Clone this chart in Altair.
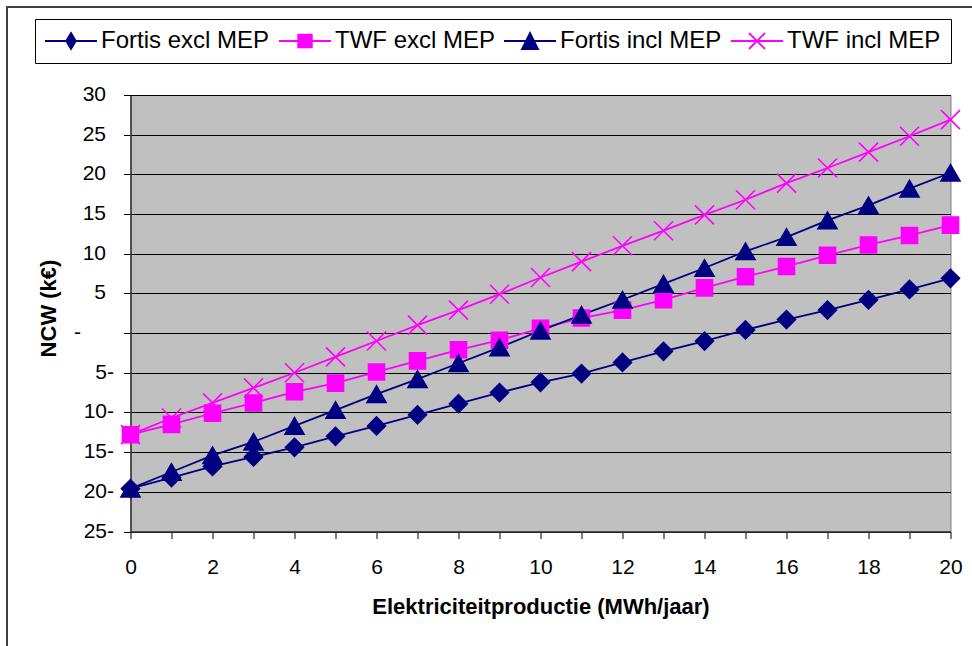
import altair as alt
import pandas as pd

# ---------------- data ----------------
x_vals = list(range(21))
series_names = ["Fortis excl MEP", "TWF excl MEP", "Fortis incl MEP", "TWF incl MEP"]
fortis_excl = [-19.6, -18.2, -16.8, -15.6, -14.4, -13.0, -11.7, -10.3, -8.9, -7.5, -6.2,
               -5.1, -3.7, -2.3, -1.0, 0.4, 1.7, 2.9, 4.2, 5.5, 6.9]
twf_excl = [-12.8, -11.5, -10.1, -8.8, -7.4, -6.3, -4.9, -3.5, -2.1, -0.9, 0.6,
            1.9, 2.9, 4.2, 5.7, 7.1, 8.4, 9.8, 11.1, 12.3, 13.6]
fortis_incl = [-19.6, -17.5, -15.4, -13.7, -11.7, -9.7, -7.7, -5.8, -3.8, -1.8, 0.3,
               2.3, 4.2, 6.2, 8.2, 10.3, 12.1, 14.2, 16.1, 18.2, 20.2]
twf_incl = [-12.8, -10.7, -8.8, -6.9, -5.0, -3.0, -1.0, 1.0, 2.9, 4.9, 7.0,
            9.0, 11.0, 12.9, 14.9, 16.8, 18.9, 20.8, 22.8, 24.8, 26.9]
x_ticks = list(range(0, 21))
y_ticks = list(range(-25, 31, 5))
# Excel-style tick labels: trailing minus for negatives, "-" for zero
y_tick_labels = [f"{-v}-" if v < 0 else ("-" if v == 0 else str(v)) for v in y_ticks]

# ---------------- styles ----------------
series_colors = ["#000080", "#FF00FF", "#000080", "#FF00FF"]
marker_shapes = ["diamond", "square", "triangle-up", "M-1,-1L1,1M1,-1L-1,1"]
marker_sizes = [324, 256, 361, 361]
# legend symbols: a short line with the marker on it
legend_paths = [
    "M-3.25,0L3.25,0M0,-1L0.6,0L0,1L-0.6,0Z",
    "M-3.25,0L3.25,0M-0.85,-0.8L0.85,-0.8L0.85,0.8L-0.85,0.8Z",
    "M-3.25,0L3.25,0M0,-1L1,1L-1,1Z",
    "M-3.25,0L3.25,0M-1,-1L1,1M1,-1L-1,1",
]
FONT = "Liberation Sans, Arial, sans-serif"

rows = []
for name, vals in zip(series_names, [fortis_excl, twf_excl, fortis_incl, twf_incl]):
    for xv, yv in zip(x_vals, vals):
        rows.append({"x": xv, "y": yv, "series": name})
df = pd.DataFrame(rows)
ylab_df = pd.DataFrame({"y": y_ticks, "label": y_tick_labels})

legend_kw = dict(
    orient="none", legendX=-95.5, legendY=-76, direction="horizontal", columns=4,
    title=None, strokeColor="black", fillColor="white", padding=10,
    labelFontSize=24, labelFont=FONT, labelColor="black", labelLimit=400,
    symbolSize=256, symbolStrokeWidth=1.8, symbolOffset=14, labelOffset=18,
    columnPadding=5, symbolOpacity=1,
)

x_axis = alt.Axis(
    values=x_ticks,
    labelExpr="datum.value % 2 == 0 ? datum.label : ''",
    grid=False, tickSize=7, tickColor="black", tickWidth=1,
    domainColor="#333333", domainWidth=1.5,
    labelFontSize=21, labelFont=FONT, labelColor="black", labelPadding=18,
    labelFlush=False, labelOverlap=False,
    title="Elektriciteitproductie (MWh/jaar)", titleFont=FONT, titleFontSize=22,
    titleFontWeight="bold", titleColor="black", titleBaseline="alphabetic", titleY=82,
)
y_axis = alt.Axis(
    values=y_ticks, labels=False,
    grid=True, gridColor="black", gridWidth=1, gridOpacity=1,
    tickSize=7, tickColor="black", tickWidth=1,
    domainColor="#333333", domainWidth=1.5,
    title="NCW (k€)", titleFont=FONT, titleFontSize=22, titleFontWeight="bold",
    titleColor="black", titleX=-70, titleY=213,
)

xscale = alt.Scale(domain=[0, 20], nice=False)
yscale = alt.Scale(domain=[-25, 30], nice=False)
X = alt.X("x:Q", scale=xscale, axis=x_axis)
Y = alt.Y("y:Q", scale=yscale, axis=y_axis, title="NCW (k€)")

base = alt.Chart(df)
line_layers = []
point_layers = []
for name, col, shp, sz in zip(series_names, series_colors, marker_shapes, marker_sizes):
    sub = base.transform_filter(alt.datum.series == name)
    line_layers.append(sub.mark_line(color=col, strokeWidth=1.8).encode(x=X, y=Y))
    point_layers.append(
        sub.mark_point(shape=shp, size=sz, filled=True, fill=col, stroke=col,
                       strokeWidth=1.6, opacity=1).encode(x=X, y=Y)
    )

# legend only (draws no marks itself: its rows are all filtered away)
legend_layer = base.transform_filter("false").mark_point(
    filled=True, strokeWidth=1.8, opacity=1
).encode(
    x=X, y=Y,
    color=alt.Color("series:N", scale=alt.Scale(domain=series_names, range=series_colors),
                    legend=alt.Legend(**legend_kw)),
    stroke=alt.Stroke("series:N", scale=alt.Scale(domain=series_names, range=series_colors),
                      legend=alt.Legend(**legend_kw)),
    shape=alt.Shape("series:N", scale=alt.Scale(domain=series_names, range=legend_paths),
                    legend=alt.Legend(**legend_kw)),
)

# y tick labels, placed by the y scale (three label columns as in the Excel number format)
ylab_base = alt.Chart(ylab_df)
ylab_layers = []
for test, xoff in [("datum.y > 0", -24.5), ("datum.y < 0", -16.5), ("datum.y == 0", -49.5)]:
    ylab_layers.append(
        ylab_base.transform_filter(test).mark_text(
            align="right", baseline="middle", font=FONT, fontSize=21, color="black"
        ).encode(
            x=alt.value(xoff),
            y=Y,
            text="label:N",
        )
    )

frame = alt.Chart(alt.Data(values=[{"k": 1}])).mark_rect(
    fillOpacity=0, stroke="#404040", strokeWidth=2
).encode(
    x=alt.value(-123.5), x2=alt.value(900), y=alt.value(-88), y2=alt.value(700)
)

chart = alt.layer(frame, *line_layers, *point_layers, legend_layer, *ylab_layers).properties(
    width=820, height=436.5,
    padding={"left": 130.5, "top": 95, "right": 21.5, "bottom": 114.5},
    autosize=alt.AutoSizeParams(type="none"),
    background="white",
).configure_view(fill="#C0C0C0", stroke="#808080", strokeWidth=1)

chart.save("out.html", embed_options={"renderer": "svg", "actions": False})
